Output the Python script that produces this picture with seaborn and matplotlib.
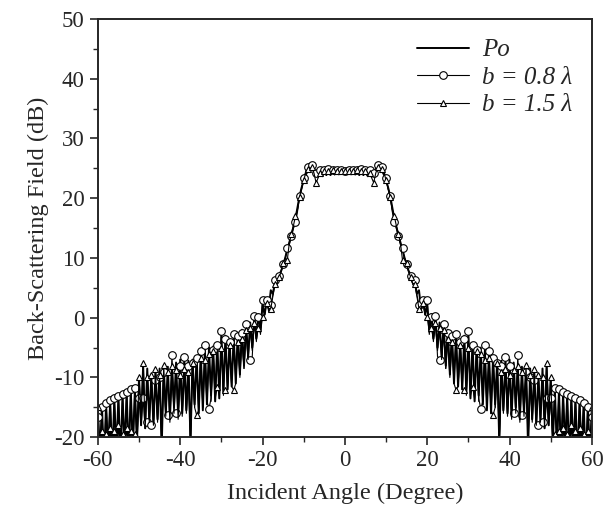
import numpy as np
import pandas as pd
import matplotlib
matplotlib.use('Agg')
import matplotlib.pyplot as plt
import seaborn as sns

# Right half of the pattern, 0 to 60 degree in 0.5 degree steps.
# The back-scattering pattern is mirror-symmetric, the left half is the mirror image.
angle_half = list(np.arange(0, 60.5, 0.5))

po_half = [
    24.3, 24.1, 24.3, 24.0, 24.3, 24.0, 24.4, 23.9, 24.4, 23.9,
    24.5, 23.8, 24.6, 23.6, 24.2, 24.6, 25.3, 25.2, 24.6, 23.9,
    23.0, 21.8, 20.4, 18.5, 16.6, 15.2, 13.9, 12.6, 11.4, 10.0,
    8.8, 7.8, 7.2, 6.0, 5.8, 4.0, 4.6, 1.5, 2.8, 0.5,
    2.2, -2.0, 0.6, -3.5, 0.0, -5.0, -0.8, -6.5, -1.2, -8.0,
    -2.0, -9.5, -2.5, -11.0, -3.2, -11.5, -3.8, -12.0, -3.0, -12.5,
    -3.0, -13.5, -4.2, -14.0, -4.8, -13.0, -5.0, -14.5, -5.5, -15.5,
    -6.0, -16.0, -6.5, -14.5, -7.0, -21.0, -7.2, -15.5, -7.4, -16.0,
    -7.0, -16.5, -7.5, -15.0, -8.5, -17.0, -8.2, -16.0, -8.0, -22.0,
    -8.5, -17.0, -9.0, -18.0, -9.5, -17.5, -8.5, -18.5, -8.0, -18.0,
    -10.0, -21.0, -12.0, -22.0, -12.2, -23.5, -12.6, -22.0, -13.0, -24.0,
    -13.3, -22.5, -13.7, -24.0, -14.0, -22.5, -14.4, -25.0, -14.7, -23.0,
    -15.0,
]

b08_half = [
    24.6, 24.2, 24.7, 24.1, 24.7, 24.2, 24.8, 24.0, 24.9, 24.1,
    24.8, 24.0, 24.7, 23.9, 24.3, 25.0, 25.6, 25.4, 25.3, 24.5,
    23.3, 21.5, 20.3, 17.8, 16.0, 15.0, 13.6, 12.2, 11.6, 9.8,
    9.0, 7.8, 7.0, 5.5, 6.3, 3.8, 2.2, 1.0, 2.9, 0.5,
    2.9, -2.8, 0.2, -4.0, 0.3, -6.5, -7.0, -7.5, -1.0, -8.5,
    -2.5, -9.5, -3.0, -10.5, -2.8, -11.5, -4.0, -12.0, -3.5, -13.0,
    -2.3, -13.5, -4.5, -14.0, -5.4, -13.5, -15.2, -14.0, -4.6, -15.0,
    -5.5, -16.0, -6.8, -15.0, -7.5, -20.5, -8.0, -15.5, -6.5, -16.0,
    -8.0, -16.5, -16.0, -15.5, -6.2, -17.0, -16.3, -16.0, -9.0, -21.0,
    -10.0, -17.0, -10.5, -18.0, -18.0, -17.5, -17.5, -18.5, -13.5, -18.0,
    -13.5, -21.0, -11.7, -22.0, -12.0, -23.0, -12.4, -22.0, -12.8, -24.0,
    -13.1, -22.5, -13.5, -24.0, -13.8, -22.5, -14.2, -25.0, -14.9, -23.0,
    -16.6,
]

b15_half = [
    24.5, 24.0, 24.6, 24.0, 24.6, 23.9, 24.7, 23.8, 24.6, 23.8,
    24.5, 23.6, 24.3, 23.4, 22.6, 24.2, 25.2, 25.0, 24.9, 24.3,
    23.0, 21.7, 20.2, 18.2, 17.0, 15.4, 14.0, 12.5, 9.6, 10.0,
    9.2, 7.6, 6.8, 5.7, 5.6, 3.6, 1.5, 1.5, 2.5, 0.5,
    0.2, -2.5, -1.8, -3.5, -0.8, -5.5, -1.8, -7.0, -2.0, -8.5,
    -3.5, -10.0, -4.0, -11.0, -12.1, -11.5, -4.5, -12.0, -12.1, -12.5,
    -5.0, -13.0, -11.6, -13.5, -5.5, -14.0, -6.0, -14.5, -7.0, -15.0,
    -6.8, -15.5, -16.3, -15.0, -7.5, -21.5, -9.0, -16.0, -8.5, -16.5,
    -9.5, -17.0, -8.8, -16.0, -8.0, -17.5, -9.0, -16.5, -7.9, -20.5,
    -9.5, -17.5, -8.5, -18.0, -9.5, -17.5, -9.9, -18.5, -7.5, -16.0,
    -9.9, -21.0, -19.5, -22.0, -19.0, -23.0, -18.5, -22.0, -19.5, -24.0,
    -18.0, -22.5, -19.0, -24.0, -18.5, -22.5, -19.5, -25.0, -19.0, -23.0,
    -15.0,
]

# full -60..60 range
angle = [-a for a in angle_half[:0:-1]] + angle_half
po = po_half[:0:-1] + po_half
b08 = b08_half[:0:-1] + b08_half
b15 = b15_half[:0:-1] + b15_half

sns.set_style('ticks')
plt.rcParams['font.family'] = ['Liberation Serif', 'DejaVu Serif']
plt.rcParams['axes.unicode_minus'] = False

fig, ax = plt.subplots(figsize=(6.04, 5.12), dpi=100)
fig.subplots_adjust(left=0.162, right=0.980, top=0.963, bottom=0.146)

sns.lineplot(x=angle, y=po, ax=ax, color='black', lw=1.4, sort=False,
             errorbar=None, label='Po')
sns.lineplot(x=angle, y=b08, ax=ax, color='black', lw=0.8, sort=False,
             errorbar=None, marker='o', markersize=5.5, markerfacecolor='white',
             markeredgecolor='black', markeredgewidth=0.8, markevery=2,
             label='b = 0.8 λ')
sns.lineplot(x=angle, y=b15, ax=ax, color='black', lw=0.8, sort=False,
             errorbar=None, marker='^', markersize=4.5, markerfacecolor='white',
             markeredgecolor='black', markeredgewidth=0.8, markevery=2,
             label='b = 1.5 λ')

ax.set_xlim(-60, 60)
ax.set_ylim(-20, 50)
ax.set_xticks(range(-60, 61, 20))
ax.set_xticks(range(-50, 60, 20), minor=True)
ax.set_yticks(range(-20, 51, 10))
ax.set_yticks(range(-15, 50, 10), minor=True)
ax.tick_params(which='major', direction='out', length=6, width=1.2, labelsize=16.5)
ax.tick_params(which='minor', direction='out', length=3.5, width=1.0)
for s in ax.spines.values():
    s.set_linewidth(1.4)

ax.set_xlabel('Incident Angle (Degree)', fontsize=17.5, labelpad=8)
ax.set_ylabel('Back-Scattering Field (dB)', fontsize=17.5, labelpad=4)

ax.legend(loc='upper right', frameon=False, handlelength=2.1, handletextpad=0.5,
          prop={'style': 'italic', 'size': 18}, labelspacing=0.2,
          borderaxespad=0.4)

plt.savefig('out.png', dpi=100)
